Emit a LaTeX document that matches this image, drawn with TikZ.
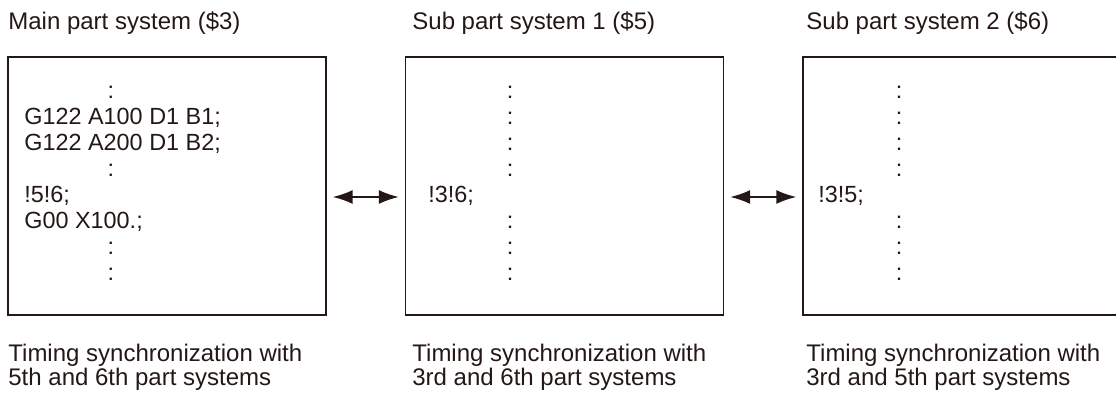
\documentclass[tikz,border=0pt]{standalone}
\usepackage{fontspec}
\setmainfont{Liberation Sans}
\usetikzlibrary{arrows.meta}
\definecolor{ink}{HTML}{231815}

\begin{document}
\begin{tikzpicture}[
        x=0.5pt, y=-0.5pt,
        font=\fontsize{12pt}{13pt}\selectfont,
        text=ink,
        sysbox/.style={draw=ink, line width=0.65pt, inner sep=0pt, minimum width=159pt, minimum height=129pt},
        title/.style={anchor=base west, inner sep=0pt},
        code/.style={anchor=base west, inner sep=0pt, font=\fontsize{11.7pt}{13pt}\selectfont},
        dots/.style={anchor=base, inner sep=0pt, font=\fontsize{11.7pt}{13pt}\selectfont},
        caption/.style={anchor=base west, inner sep=0pt, align=left, font=\fontsize{12pt}{12pt}\selectfont},
        sync/.style={draw=ink, line width=0.9pt, {Latex[length=10pt,width=7pt]}-{Latex[length=10pt,width=7pt]}, shorten <=3pt, shorten >=3pt}
      ]
      \path[use as bounding box, clip] (0,0) rectangle (1116,394);

      % main part system
      \node[title] (maintitle) at (8,30) {Main part system (\$3)};
      \node[sysbox] (mainbox) at (167,186) {};
      \node[dots] (mdot1) at (111,99) {:};
      \node[code] (mline1) at (24,125) {G122 A100 D1 B1;};
      \node[code] (mline2) at (24,151) {G122 A200 D1 B2;};
      \node[dots] (mdot2) at (111,177) {:};
      \node[code] (mwait) at (24,203) {!5!6;};
      \node[code] (mline3) at (24,229) {G00 X100.;};
      \node[dots] (mdot3) at (111,255) {:};
      \node[dots] (mdot4) at (111,281) {:};
      \node[caption] (maincap) at (8,386) {Timing synchronization with\\5th and 6th part systems};

      % sub part system 1
      \node[title] (subtitle1) at (412,30) {Sub part system 1 (\$5)};
      \node[sysbox] (subbox1) at (564.5,186) {};
      \foreach \y in {99,125,151,177,229,255,281}
        \node[dots] (sadot\y) at (510,\y) {:};
      \node[code] (sawait) at (428,203) {!3!6;};
      \node[caption] (subcap1) at (412,386) {Timing synchronization with\\3rd and 6th part systems};

      % sub part system 2
      \node[title] (subtitle2) at (806,30) {Sub part system 2 (\$6)};
      \node[sysbox] (subbox2) at (962,186) {};
      \foreach \y in {99,125,151,177,229,255,281}
        \node[dots] (sbdot\y) at (899,\y) {:};
      \node[code] (sbwait) at (818,203) {!3!5;};
      \node[caption] (subcap2) at (806,386) {Timing synchronization with\\3rd and 5th part systems};

      \draw[sync] ([yshift=-5.5pt]mainbox.east) -- ([yshift=-5.5pt]subbox1.west);
      \draw[sync] ([yshift=-5.5pt]subbox1.east) -- ([yshift=-5.5pt]subbox2.west);
    \end{tikzpicture}
\end{document}
